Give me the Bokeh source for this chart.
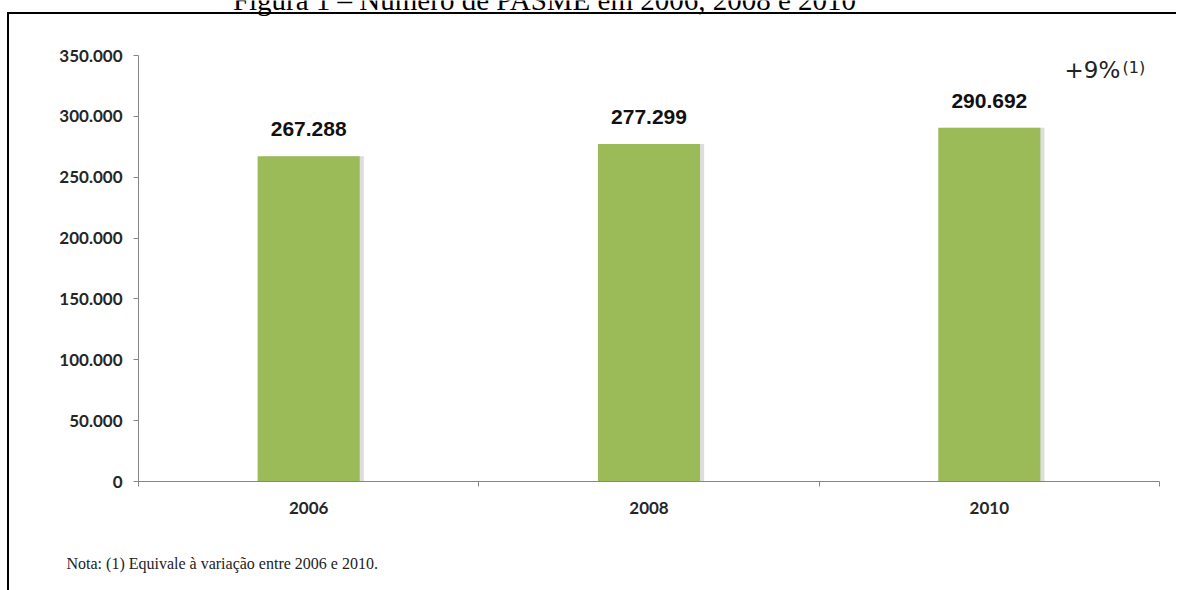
from bokeh.plotting import figure
from bokeh.models import (Range1d, FixedTicker, Label, LabelSet, ColumnDataSource,
                          Title, InlineStyleSheet)
from bokeh.core.properties import value
from bokeh.embed import file_html
from bokeh.resources import INLINE

# ---- data ----
years = ["2006", "2008", "2010"]
counts = [267288, 277299, 290692]
count_labels = ["267.288", "277.299", "290.692"]
y_ticks = [0, 50000, 100000, 150000, 200000, 250000, 300000, 350000]
y_tick_labels = ["0", "50.000", "100.000", "150.000", "200.000", "250.000", "300.000", "350.000"]
growth_label = "+9%"
growth_ref = "(1)"
title_text = "Figura 1 – Número de PASME em 2006, 2008 e 2010"
note_text = "Nota: (1) Equivale à variação entre 2006 e 2010."

# ---- layout (pixels) ----
W, H = 1176, 574
FL, FB = 138, 481          # frame left / bottom (canvas px)
AXIS_TOP = 55              # where the top y tick sits
AXIS_RIGHT = 1159          # where the x axis ends
frame_w = W - FL
frame_h = FB
n = len(years)
x_end = n * frame_w / (AXIS_RIGHT - FL)
y_end = y_ticks[-1] * frame_h / (FB - AXIS_TOP)

def sx(cx):
    return cx - FL

def sy(cy, size=0):
    # baseline correction for Label text (empirical)
    return FB - (cy - 0.37 * size)

xs = [i + 0.5 for i in range(n)]

p = figure(width=W, height=H, output_backend="svg", toolbar_location=None, title=None,
           x_range=Range1d(0, x_end), y_range=Range1d(0, y_end),
           min_border_left=FL, min_border_right=0, min_border_top=0,
           min_border_bottom=H - FB)
p.background_fill_color = "white"
p.border_fill_color = "white"
p.outline_line_color = None
p.xgrid.visible = False
p.ygrid.visible = False

src = ColumnDataSource(dict(x=xs, top=counts, lab=count_labels,
                            xs_shadow=[x + 0.012 for x in xs]))

# bar shadow + bars
p.vbar(x="xs_shadow", top="top", width=0.3, source=src, fill_color="#d4d4d4",
       fill_alpha=0.8, line_color=None)
p.vbar(x="x", top="top", width=0.3, source=src, fill_color="#9BBB59", line_color=None)

p.add_layout(LabelSet(x="x", y="top", text="lab", source=src, y_offset=20,
                      text_align="center", text_baseline="alphabetic",
                      text_font=value("Liberation Sans"), text_font_style="bold",
                      text_font_size="21px", text_color="#111111"))

axis_col = "#868686"
# y axis
ya = p.yaxis[0]
ya.ticker = FixedTicker(ticks=y_ticks, minor_ticks=[])
ya.bounds = (y_ticks[0], y_ticks[-1])
ya.major_label_overrides = dict(zip(y_ticks, y_tick_labels))
ya.axis_line_color = axis_col
ya.major_tick_line_color = axis_col
ya.major_tick_out = 5
ya.major_tick_in = 0
ya.minor_tick_line_color = None
ya.major_label_standoff = 11
ya.major_label_text_font = "Lato"
ya.major_label_text_font_style = "bold"
ya.major_label_text_font_size = "17px"
ya.major_label_text_color = "#262626"

# x axis
xa = p.xaxis[0]
xa.ticker = FixedTicker(ticks=xs, minor_ticks=list(range(n + 1)))
xa.bounds = (0, n)
xa.major_label_overrides = {x: y for x, y in zip(xs, years)}
xa.axis_line_color = axis_col
xa.major_tick_line_color = None
xa.major_tick_out = 0
xa.major_tick_in = 0
xa.minor_tick_line_color = axis_col
xa.minor_tick_out = 5
xa.minor_tick_in = 0
xa.major_label_standoff = 15
xa.major_label_text_font = "Lato"
xa.major_label_text_font_style = "bold"
xa.major_label_text_font_size = "17px"
xa.major_label_text_color = "#262626"
# invisible spacer so that the note sits at the bottom of the page
xa.axis_label = " "
xa.axis_label_text_font_size = "2px"
xa.axis_label_standoff = 31

# growth annotation
p.add_layout(Label(x=sx(1064), y=sy(78, 23), x_units="screen", y_units="screen",
                   text=growth_label, text_font="DejaVu Sans", text_font_size="23px",
                   text_color="#222222", text_baseline="alphabetic"))
p.add_layout(Label(x=sx(1122), y=sy(73, 16), x_units="screen", y_units="screen",
                   text=growth_ref, text_font="DejaVu Sans", text_font_size="16px",
                   text_color="#222222", text_baseline="alphabetic"))

# figure caption, cut off at the top edge like in the source
p.add_layout(Label(x=sx(544), y=sy(10, 29), x_units="screen", y_units="screen",
                   text=title_text, text_font="Liberation Serif", text_font_size="29px",
                   text_color="black", text_align="center", text_baseline="alphabetic"))

# note below the chart
p.add_layout(Title(text=note_text, align="left", offset=66 - FL, standoff=0,
                   vertical_align="bottom", text_font="Liberation Serif",
                   text_font_style="normal", text_font_size="16px",
                   text_color="#222222"), "below")

# black frame lines of the figure box (top and left)
p.stylesheets = [InlineStyleSheet(css="""
:host { overflow: visible; }
:host::after { content: ""; position: absolute; left: 7px; top: 12px; right: 0px;
               height: 2px; background: #000; z-index: 10; pointer-events: none; }
:host::before { content: ""; position: absolute; left: 7px; top: 12px; width: 2px;
                bottom: -20px; background: #000; z-index: 10; pointer-events: none; }
""")]

open("out.html", "w").write(file_html(p, INLINE))
